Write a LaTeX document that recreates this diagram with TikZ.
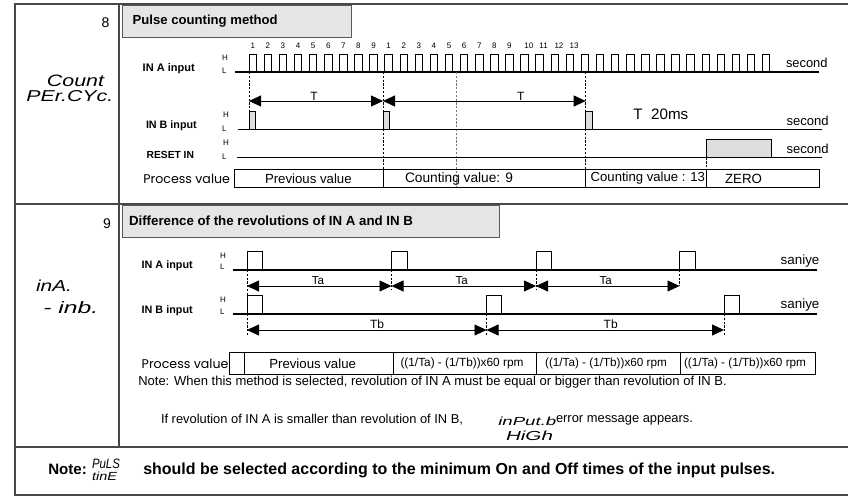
\documentclass[tikz,border=0pt]{standalone}
\usepackage{fontspec}
\usepackage{graphicx}
\setmainfont{Liberation Sans}
\newfontfamily\gothic{Poppins}
\usetikzlibrary{arrows.meta}
\newcommand{\fitto}[2]{\resizebox{#1}{!}{#2}}
\newcommand{\segbox}[3]{\resizebox{#1}{#2}{\itshape #3}}
\tikzset{
  frameln/.style={draw=black!72, line width=1.2pt},
  hdrbox/.style={draw=black!65, fill=black!10, line width=0.9pt},
  baseln/.style={line width=1.5pt},
  pulseln/.style={line width=0.9pt},
  dashln/.style={line width=0.7pt, dash pattern=on 2.2pt off 1.6pt},
  dimln/.style={line width=0.8pt, {Triangle[length=12pt,width=11pt]}-{Triangle[length=12pt,width=11pt]}},
  txt/.style={inner sep=0pt, outer sep=0pt},
  hl/.style={txt, anchor=west, font=\fontsize{8}{9}\selectfont},
  graypulse/.style={draw=black, fill=black!13, line width=0.9pt},
  numl/.style={txt, font=\fontsize{8}{9}\selectfont},
}
\begin{document}
\begin{tikzpicture}[x=1pt,y=-1pt]
\useasboundingbox (0,0) rectangle (848,497);
% ---------- frame ----------
\draw[frameln] (848,4) -- (15,4) -- (15,495) -- (848,495);
\draw[frameln] (15,204) -- (848,204);
\draw[frameln] (15,447) -- (848,447);
\draw[frameln] (119,4) -- (119,447);
% ---------- headers ----------
\draw[hdrbox] (122,5) rectangle (351,37);
\node[txt,anchor=west] (hd8) at (132.7,21) {\fitto{145pt}{\bfseries Pulse counting method}};
\draw[hdrbox] (122,205) rectangle (499,237);
\node[txt,anchor=west] (hd9) at (129,221) {\fitto{284pt}{\bfseries Difference of the revolutions of IN A and IN B}};
% ---------- left column ----------
\node[txt] (n8) at (105.5,22.5) {\fontsize{14}{16}\selectfont 8};
\node[txt] (n9) at (107,223.5) {\fontsize{14}{16}\selectfont 9};
\node[txt,anchor=base east] (s8a) at (104,87) {\segbox{57pt}{11.5pt}{Count}};
\node[txt,anchor=base east] (s8b) at (113.3,101.5) {\segbox{87pt}{11pt}{PEr.CYc.}};
\node[txt,anchor=base west] (s9a) at (36,291.5) {\segbox{36pt}{11.5pt}{inA.}};
\node[txt,anchor=base west] (s9b) at (43.3,313) {\segbox{55pt}{12pt}{- inb.}};
% ================= section 8 =================
\node[txt,anchor=west] (la8) at (142.7,69) {\fitto{52pt}{\bfseries IN A input}};
\node[txt,anchor=west] (lb8) at (146,126) {\fitto{50.7pt}{\bfseries IN B input}};
\node[txt,anchor=west] (lr8) at (146.7,155) {\fitto{47.3pt}{\bfseries RESET IN}};
\node[hl] (ha8) at (222,58) {H};
\node[hl] (la8l) at (222,71) {L};
\node[hl] (hb8) at (223,115) {H};
\node[hl] (lb8l) at (222,129) {L};
\node[hl] (hr8) at (223,143) {H};
\node[hl] (lr8l) at (222,157) {L};
% IN A
\coordinate (A8s) at (235,72); \coordinate (A8e) at (819,72);
\draw[baseln] (A8s) -- (A8e);
\foreach \k in {0,...,34}{
  \pgfmathsetmacro\xa{249+15.1*\k}
  \draw[pulseln] (\xa,72) -- (\xa,54) -- (\xa+7.5,54) -- (\xa+7.5,72);
}
\foreach \k in {0,...,8}{
  \pgfmathtruncatemacro\nn{\k+1}
  \node[numl] (pa\nn) at ({249+15.1*\k+3.75},46) {\nn};
}
\foreach \k in {1,...,9}{
  \node[numl] (pb\k) at ({249+15.1*(8+\k)+3.75},46) {\k};
}
\foreach \k in {10,...,13}{
  \node[numl,anchor=west] (pb\k) at ({249+15.1*(8+\k)+3.5},46) {\k};
}
\node[txt,anchor=west] (sec1) at (786,63) {\fitto{41.5pt}{second}};
% IN B
\coordinate (B8s) at (238,129.3); \coordinate (B8e) at (822,129.3);
% dashed guides
\draw[dashln] (249,72) -- (249,111);
\draw[dashln] (383,72) -- (383,169);
\draw[dashln] (585.7,72) -- (585.7,169);
\draw[dashln, draw=black!55] (456,72) -- (456,187);
\draw[dashln] (706,157.7) -- (706,169);
\draw[baseln] (B8s) -- (B8e);
\draw[graypulse] (249,129.3) rectangle (255.5,111);
\draw[graypulse] (383,129.3) rectangle (389.5,111);
\draw[graypulse] (585.7,129.3) rectangle (592.2,111);
\node[txt,anchor=west] (t20) at (633.3,114) {\fitto{55pt}{T\hspace{0.57em}20ms}};
\node[txt,anchor=west] (sec2) at (786.7,121) {\fitto{42pt}{second}};
% RESET
\coordinate (R8s) at (237,157.7); \coordinate (R8e) at (822,157.7);
\draw[graypulse] (706,157.7) rectangle (771,139);
\draw[baseln] (R8s) -- (R8e);
\node[txt,anchor=west] (sec3) at (786.7,149) {\fitto{42pt}{second}};
% T arrows
\coordinate (T1) at (249,101); \coordinate (T2) at (383,101); \coordinate (T3) at (585.7,101);
\draw[dimln] (T1) -- (T2);
\draw[dimln] (T2) -- (T3);
\node[txt] (tl1) at (314,96.5) {\fontsize{12}{13}\selectfont T};
\node[txt] (tl2) at (520.7,96) {\fontsize{12}{13}\selectfont T};
% process value 8
\draw[pulseln] (234,169) rectangle (819,187);
\draw[pulseln] (383,169) -- (383,187);
\draw[pulseln] (585.7,169) -- (585.7,187);
\draw[pulseln] (706,169) -- (706,187);
\node[txt,anchor=west] (pv8) at (143.3,179) {\fitto{86.7pt}{\gothic Process value}};
\node[txt,anchor=west] (pv8a) at (265,178.5) {\fitto{86.7pt}{Previous value}};
\node[txt,anchor=west] (pv8b) at (405,178.5) {\fitto{108pt}{Counting value: 9}};
\node[txt,anchor=west] (pv8c) at (590.7,178.5) {\fitto{114.3pt}{Counting value : 13}};
\node[txt,anchor=west] (pv8d) at (725,178.5) {\fitto{37pt}{ZERO}};
% ================= section 9 =================
\node[txt,anchor=west] (la9) at (141.7,266) {\fitto{51pt}{\bfseries IN A input}};
\node[txt,anchor=west] (lb9) at (141.7,311) {\fitto{51pt}{\bfseries IN B input}};
\node[hl] (ha9) at (220,256) {H};
\node[hl] (la9l) at (220,267) {L};
\node[hl] (hb9) at (220,300) {H};
\node[hl] (lb9l) at (220,312) {L};
% dashed
\draw[dashln] (247,270) -- (247,295);
\draw[dashln] (247,314) -- (247,335);
\draw[dashln] (391.5,270) -- (391.5,290);
\draw[dashln] (536,270) -- (536,290);
\draw[dashln] (679.5,270) -- (679.5,286);
\draw[dashln] (486.5,314) -- (486.5,335);
\draw[dashln] (724,314) -- (724,335);
% IN A
\coordinate (A9s) at (233,270); \coordinate (A9e) at (817,270);
\draw[baseln] (A9s) -- (A9e);
\foreach \xa in {247,391.5,536,679.5}{
  \draw[pulseln] (\xa,270) -- (\xa,251) -- (\xa+15.5,251) -- (\xa+15.5,270);
}
\node[txt,anchor=west] (sa1) at (780.7,261) {\fitto{38.7pt}{saniye}};
% IN B
\coordinate (B9s) at (233,314); \coordinate (B9e) at (817,314);
\draw[baseln] (B9s) -- (B9e);
\foreach \xa in {247,486.5,724}{
  \draw[pulseln] (\xa,314) -- (\xa,295) -- (\xa+15,295) -- (\xa+15,314);
}
\node[txt,anchor=west] (sa2) at (780.7,305) {\fitto{38.7pt}{saniye}};
% Ta arrows
\coordinate (Ta1) at (247,286); \coordinate (Ta2) at (391.5,286);
\coordinate (Ta3) at (536,286); \coordinate (Ta4) at (679.5,286);
\draw[dimln] (Ta1) -- (Ta2);
\draw[dimln] (Ta2) -- (Ta3);
\draw[dimln] (Ta3) -- (Ta4);
\node[txt] (tal1) at (318,281) {\fitto{12.3pt}{Ta}};
\node[txt] (tal2) at (461.7,281) {\fitto{12.3pt}{Ta}};
\node[txt] (tal3) at (605.8,281) {\fitto{12.3pt}{Ta}};
% Tb arrows
\coordinate (Tb1) at (247,330); \coordinate (Tb2) at (486.5,330); \coordinate (Tb3) at (724,330);
\draw[dimln] (Tb1) -- (Tb2);
\draw[dimln] (Tb2) -- (Tb3);
\node[txt] (tbl1) at (377,324.5) {\fitto{14pt}{Tb}};
\node[txt] (tbl2) at (610.7,324.5) {\fitto{14pt}{Tb}};
% process value 9
\draw[pulseln] (229,352) rectangle (815,374);
\foreach \xd in {244,393,536,680}{ \draw[pulseln] (\xd,352) -- (\xd,374); }
\node[txt,anchor=west] (pv9) at (141.7,363.5) {\fitto{86.7pt}{\gothic Process value}};
\node[txt,anchor=west] (pv9a) at (269.3,364) {\fitto{86.7pt}{Previous value}};
\node[txt] (pv9b) at (462,363) {\fitto{123pt}{((1/Ta) - (1/Tb))x60 rpm}};
\node[txt] (pv9c) at (606,363) {\fitto{121.7pt}{((1/Ta) - (1/Tb))x60 rpm}};
\node[txt] (pv9d) at (745,363) {\fitto{122pt}{((1/Ta) - (1/Tb))x60 rpm}};
% notes
\node[txt,anchor=west] (note1) at (138.3,382.5) {\fitto{588.4pt}{Note: When this method is selected, revolution of IN A must be equal or bigger than revolution of IN B.}};
\node[txt,anchor=west] (note2) at (161,420) {\fitto{302pt}{If revolution of IN A is smaller than revolution of IN B,}};
\node[txt,anchor=base west] (err1) at (498.3,425.5) {\segbox{58pt}{8.5pt}{inPut.b}};
\node[txt,anchor=base west] (err2) at (506,440) {\segbox{47pt}{9.5pt}{HiGh}};
\node[txt,anchor=west] (note3) at (556,420) {\fitto{137pt}{error message appears.}};
% bottom note
\node[txt,anchor=base west] (bn1) at (48.3,474) {\fitto{38.5pt}{\bfseries Note:}};
\node[txt,anchor=base west] (bp1) at (92,468.3) {\segbox{28pt}{9.5pt}{PuLS}};
\node[txt,anchor=base west] (bp2) at (92,480) {\segbox{25pt}{8.5pt}{tinE}};
\node[txt,anchor=base west] (bn2) at (143.3,474) {\fitto{631.7pt}{\bfseries should be selected according to the minimum On and Off times of the input pulses.}};
\end{tikzpicture}
\end{document}
